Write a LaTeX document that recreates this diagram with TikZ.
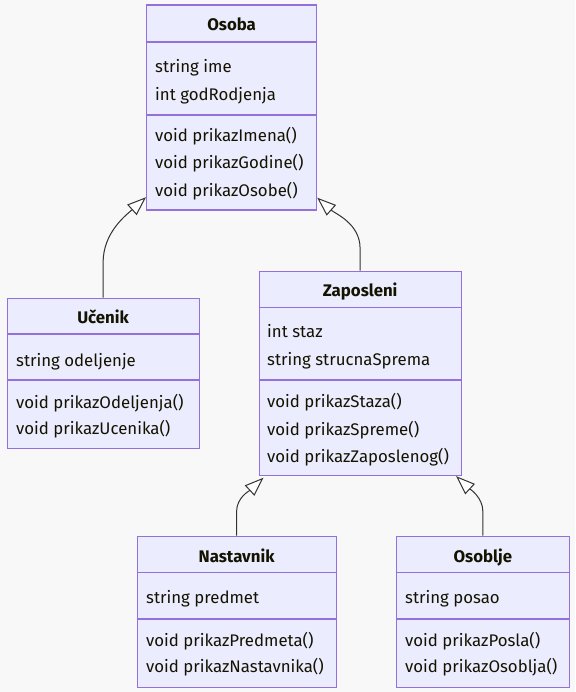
\documentclass[tikz,border=0pt]{standalone}
\usepackage{fontspec}
\setmainfont{Fira Sans}
\usetikzlibrary{arrows.meta,calc}
\definecolor{boxfill}{HTML}{ECECFF}
\definecolor{boxline}{HTML}{9370DB}
\definecolor{bgcol}{HTML}{F8F8F8}
\definecolor{edgecol}{HTML}{333333}
\definecolor{txtcol}{HTML}{131300}
\tikzset{
  classbox/.style={draw=boxline, fill=boxfill, line width=1.2pt, anchor=north west, inner sep=0pt},
  sepline/.style={draw=boxline, line width=1.2pt},
  member/.style={anchor=base west, inner sep=0pt, text=txtcol, font=\fontsize{16.8}{19}\selectfont},
  title/.style={anchor=base, inner sep=0pt, text=txtcol, font=\fontsize{16.8}{19}\selectfont\bfseries},
  inherit/.style={draw=edgecol, line width=1pt, -{Triangle[length=19pt, width=14pt, fill=white, line width=1pt]}}
}
\begin{document}
\begin{tikzpicture}[x=1pt, y=-1pt]
\useasboundingbox[fill=bgcol] (0,0) rectangle (575,692);

% Osoba
\node[classbox, minimum width=170pt, minimum height=205pt] (osoba) at (146,4.5) {};
\draw[sepline] (osoba.west |- 0,42) -- (osoba.east |- 0,42);
\draw[sepline] (osoba.west |- 0,115) -- (osoba.east |- 0,115);
\node[title] (osobaT) at (osoba.north |- 0,31) {Osoba};
\node[member] (osobaA1) at (155,72.5) {string ime};
\node[member] (osobaA2) at (155,100.5) {int godRodjenja};
\node[member] (osobaM1) at (155,142) {void prikazImena()};
\node[member] (osobaM2) at (155,169) {void prikazGodine()};
\node[member] (osobaM3) at (155,196.5) {void prikazOsobe()};

% Ucenik
\node[classbox, minimum width=192pt, minimum height=150pt] (ucenik) at (6.5,297.5) {};
\draw[sepline] (ucenik.west |- 0,334) -- (ucenik.east |- 0,334);
\draw[sepline] (ucenik.west |- 0,380) -- (ucenik.east |- 0,380);
\node[title] (ucenikT) at (ucenik.north |- 0,323.5) {Učenik};
\node[member] (ucenikA1) at (16,366) {string odeljenje};
\node[member] (ucenikM1) at (16,408.5) {void prikazOdeljenja()};
\node[member] (ucenikM2) at (16,434.5) {void prikazUcenika()};

% Zaposleni
\node[classbox, minimum width=202pt, minimum height=204pt] (zaposleni) at (258.5,270.5) {};
\draw[sepline] (zaposleni.west |- 0,307.5) -- (zaposleni.east |- 0,307.5);
\draw[sepline] (zaposleni.west |- 0,380) -- (zaposleni.east |- 0,380);
\node[title] (zaposleniT) at (zaposleni.north |- 0,296.5) {Zaposleni};
\node[member] (zaposleniA1) at (267,337.5) {int staz};
\node[member] (zaposleniA2) at (267,365.5) {string strucnaSprema};
\node[member] (zaposleniM1) at (267,407.5) {void prikazStaza()};
\node[member] (zaposleniM2) at (267,435.5) {void prikazSpreme()};
\node[member] (zaposleniM3) at (267,462.5) {void prikazZaposlenog()};

% Nastavnik
\node[classbox, minimum width=199pt, minimum height=151pt] (nastavnik) at (136.5,535.5) {};
\draw[sepline] (nastavnik.west |- 0,572.5) -- (nastavnik.east |- 0,572.5);
\draw[sepline] (nastavnik.west |- 0,619) -- (nastavnik.east |- 0,619);
\node[title] (nastavnikT) at (nastavnik.north |- 0,562.5) {Nastavnik};
\node[member] (nastavnikA1) at (146,603.5) {string predmet};
\node[member] (nastavnikM1) at (146,646) {void prikazPredmeta()};
\node[member] (nastavnikM2) at (146,672.5) {void prikazNastavnika()};

% Osoblje
\node[classbox, minimum width=173.5pt, minimum height=151pt] (osoblje) at (395.5,535.5) {};
\draw[sepline] (osoblje.west |- 0,572.5) -- (osoblje.east |- 0,572.5);
\draw[sepline] (osoblje.west |- 0,619) -- (osoblje.east |- 0,619);
\node[title] (osobljeT) at (osoblje.north |- 0,562.5) {Osoblje};
\node[member] (osobljeA1) at (405,603.5) {string posao};
\node[member] (osobljeM1) at (405,646) {void prikazPosla()};
\node[member] (osobljeM2) at (405,672.5) {void prikazOsoblja()};

% inheritance connectors
\coordinate (tipU) at ($(osoba.south west)+(0,-13.5)$);
\coordinate (tipZ) at ($(osoba.south east)+(0,-13)$);
\coordinate (tipN) at ($(zaposleni.south west)+(5,2)$);
\coordinate (tipO) at ($(zaposleni.south east)+(-5.5,0.5)$);

\draw[inherit] (ucenik.north) -- ++(0,-35) .. controls +(0,-30) and ($(tipU)+(-20,18)$) .. (tipU);
\draw[inherit] (zaposleni.north) -- ++(0,-22) .. controls +(0,-25) and ($(tipZ)+(18,16)$) .. (tipZ);
\draw[inherit] (nastavnik.north) -- ++(0,-24) .. controls +(0,-14) and ($(tipN)+(-14,13)$) .. (tipN);
\draw[inherit] (osoblje.north) -- ++(0,-24) .. controls +(0,-14) and ($(tipO)+(14,13)$) .. (tipO);
\end{tikzpicture}
\end{document}
